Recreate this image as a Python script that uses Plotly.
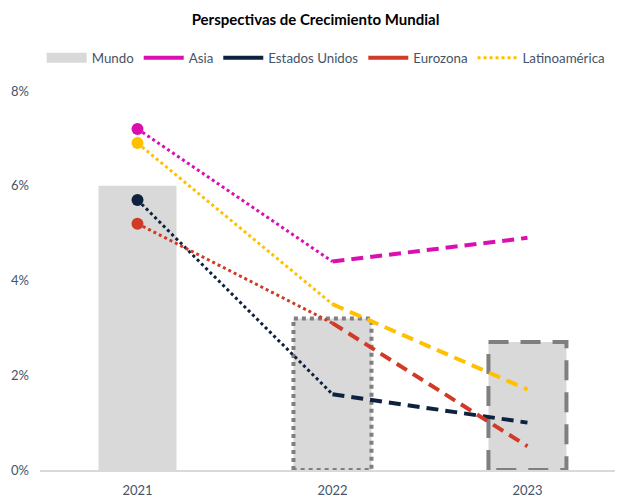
import plotly.graph_objects as go

years = ["2021", "2022", "2023"]
mundo = [6.0, 3.2, 2.7]
asia = [7.2, 4.4, 4.9]
eeuu = [5.7, 1.6, 1.0]
eurozona = [5.2, 3.1, 0.5]
latam = [6.9, 3.5, 1.7]
yticks = [0, 2, 4, 6, 8]
ytick_labels = ["0%", "2%", "4%", "6%", "8%"]

series = [
    ("Asia", asia, "#DB0FB0", "solid"),
    ("Estados Unidos", eeuu, "#0E2240", "solid"),
    ("Eurozona", eurozona, "#D03A26", "solid"),
    ("Latinoamérica", latam, "#FFC000", "dot"),
]

FONT = "Lato"
TXT = "#44546A"
GRAY = "#D9D9D9"
BORDER = "#7F7F7F"
W = 0.4

xs = list(range(len(years)))
fig = go.Figure()

fig.add_trace(go.Bar(x=xs, y=mundo, width=W, marker=dict(color=GRAY, line=dict(width=0)),
                     showlegend=False, hoverinfo="skip"))

# bar borders for forecast years
for i, dash in [(1, "4px,4px"), (2, "20px,12px")]:
    x0, x1 = i - W / 2, i + W / 2
    fig.add_trace(go.Scatter(x=[x0, x0, x1, x1, x0], y=[0, mundo[i], mundo[i], 0, 0],
                             mode="lines", line=dict(color=BORDER, width=4, dash=dash),
                             showlegend=False, hoverinfo="skip"))

for name, vals, color, _ in series:
    fig.add_trace(go.Scatter(x=xs[0:2], y=vals[0:2], mode="lines",
                             line=dict(color=color, width=3, dash="3px,3px"),
                             showlegend=False, hoverinfo="skip"))
    fig.add_trace(go.Scatter(x=xs[1:3], y=vals[1:3], mode="lines",
                             line=dict(color=color, width=4, dash="12px,7px"),
                             showlegend=False, hoverinfo="skip"))
    fig.add_trace(go.Scatter(x=xs[0:1], y=vals[0:1], mode="markers",
                             marker=dict(color=color, size=12),
                             showlegend=False, hoverinfo="skip"))

# legend entries
fig.add_trace(go.Scatter(x=[None], y=[None], mode="lines", name="Mundo",
                         line=dict(color=GRAY, width=11)))
for name, vals, color, ldash in series:
    fig.add_trace(go.Scatter(x=[None], y=[None], mode="lines", name=name,
                             line=dict(color=color, width=4 if ldash == "solid" else 3,
                                       dash="solid" if ldash == "solid" else "3px,3px")))

# the page body adds an 8px offset, so the figure is sized to fit the window
fig.update_layout(
    width=615, height=490,
    margin=dict(l=32, r=0, t=83, b=28),
    paper_bgcolor="white", plot_bgcolor="white",
    font=dict(family=FONT, color=TXT, size=13),
    title=dict(text="<b>Perspectivas de Crecimiento Mundial</b>", x=0.5, xanchor="center",
               y=1 - 12 / 490, yanchor="middle", font=dict(size=15, color="#000000", family=FONT)),
    legend=dict(orientation="h", x=0.49, xanchor="center", y=1.087, yanchor="middle",
                itemwidth=40, font=dict(size=13.3, color=TXT), bgcolor="rgba(0,0,0,0)"),
    xaxis=dict(range=[-0.5, 2.49], tickvals=xs, ticktext=years, showgrid=False,
               showline=True, linecolor=GRAY, linewidth=1.5, zeroline=False,
               ticks="", ticklabelstandoff=8, tickfont=dict(size=13, color=TXT)),
    yaxis=dict(range=[0, 8], tickvals=yticks, ticktext=ytick_labels, showgrid=False,
               zeroline=False, showline=False, ticks="", ticklabelstandoff=10,
               tickfont=dict(size=13, color=TXT)),
)

fig.write_html("out.html")
